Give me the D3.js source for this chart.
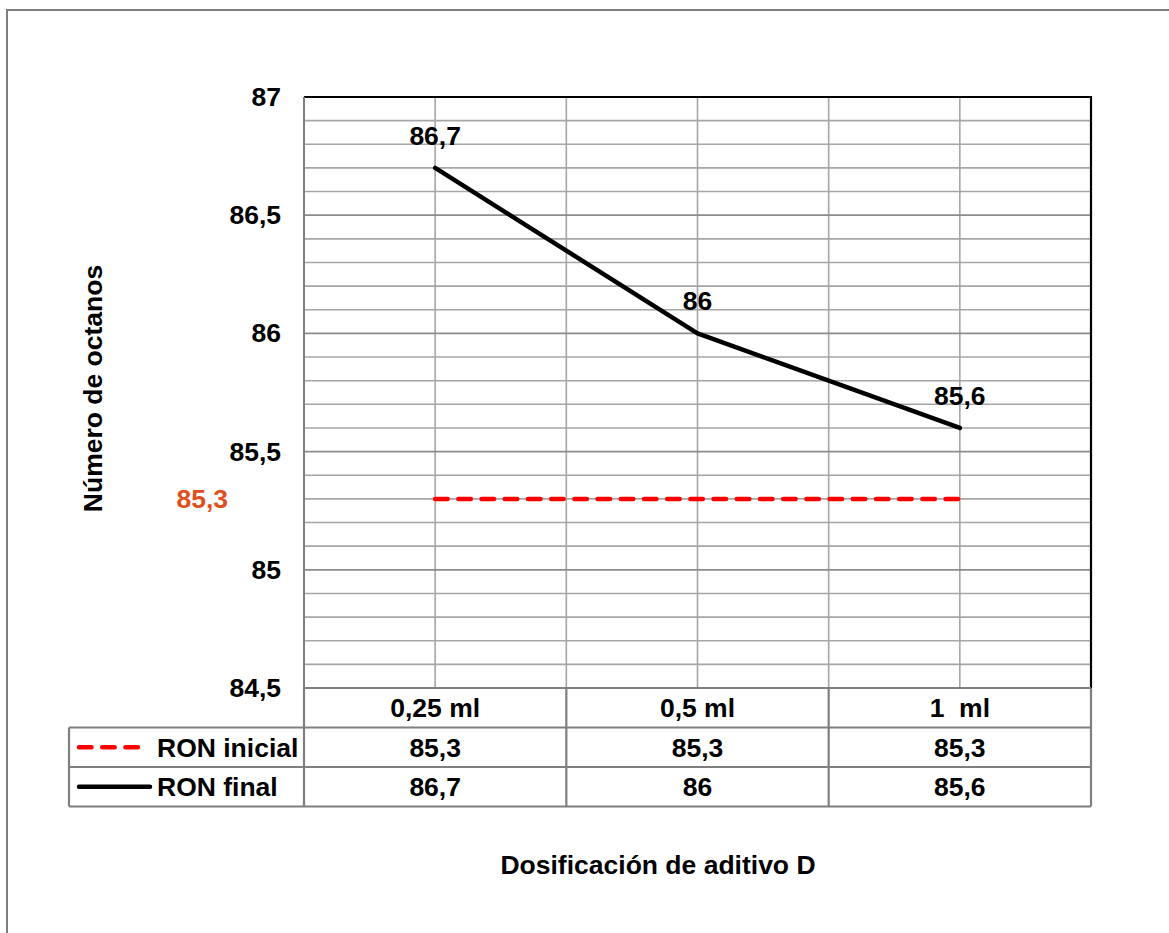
<!DOCTYPE html>
<html>
<head>
<meta charset="utf-8">
<script src="https://cdn.jsdelivr.net/npm/d3@7/dist/d3.min.js"></script>
<style>
  html, body { margin: 0; padding: 0; background: #fff; }
  svg text { font-family: "Liberation Sans", Arial, sans-serif; font-weight: bold; }
</style>
</head>
<body>
<svg id="chart" width="1169" height="933"></svg>
<script>
// Dosage categories and octane readings
const categories = ["0,25 ml", "0,5 ml", "1  ml"];
const ronInicial = [85.3, 85.3, 85.3];
const ronFinal = [86.7, 86.0, 85.6];
const seriesNames = ["RON inicial", "RON final"];
const yMajorTicks = [84.5, 85, 85.5, 86, 86.5, 87];

const svg = d3.select("#chart");
const W = 1169, H = 933;
const FS = 26.5;

const fmt = d3.formatLocale({ decimal: ",", thousands: ".", grouping: [3], currency: ["", ""] }).format("~r");
const fmt1 = v => fmt(+v.toFixed(1));

const plot = { left: 304, right: 1091, top: 97, bottom: 688 };
const rowH = 39.5;

const x = d3.scaleBand().domain(categories).range([plot.left, plot.right]).padding(0);
const y = d3.scaleLinear().domain([84.5, 87]).range([plot.bottom, plot.top]);

// Outer frame (runs off the right and bottom edges)
svg.append("rect")
  .attr("x", 7).attr("y", 10).attr("width", W + 20).attr("height", H + 20)
  .attr("fill", "none").attr("stroke", "#7f7f7f").attr("stroke-width", 2);

// Minor horizontal gridlines every 0.1
const minor = d3.range(0, 26).map(i => +(84.5 + i * 0.1).toFixed(1))
  .filter(v => !yMajorTicks.some(m => Math.abs(m - v) < 1e-6));
svg.append("g").selectAll("line").data(minor).join("line")
  .attr("x1", plot.left).attr("x2", plot.right)
  .attr("y1", d => y(d)).attr("y2", d => y(d))
  .attr("stroke", "#a6a6a6").attr("stroke-width", 1.6);

// Vertical gridlines at category centres and boundaries
const vx = [];
categories.forEach((c, i) => {
  vx.push(x(c) + x.bandwidth() / 2);
  if (i > 0) vx.push(x(c));
});
svg.append("g").selectAll("line").data(vx).join("line")
  .attr("x1", d => d).attr("x2", d => d)
  .attr("y1", plot.top).attr("y2", plot.bottom)
  .attr("stroke", "#a6a6a6").attr("stroke-width", 1.6);

// Major horizontal gridlines every 0.5
svg.append("g").selectAll("line").data(yMajorTicks.filter(v => v > 84.5 && v < 87)).join("line")
  .attr("x1", plot.left).attr("x2", plot.right)
  .attr("y1", d => y(d)).attr("y2", d => y(d))
  .attr("stroke", "#8c8c8c").attr("stroke-width", 1.8);

// Plot borders: black top/right, gray left
svg.append("path")
  .attr("d", `M${plot.left},${plot.top}H${plot.right}V${plot.bottom}`)
  .attr("fill", "none").attr("stroke", "#000").attr("stroke-width", 2.2);
svg.append("line")
  .attr("x1", plot.left).attr("x2", plot.left).attr("y1", plot.top).attr("y2", plot.bottom)
  .attr("stroke", "#7f7f7f").attr("stroke-width", 2);

// Y axis tick labels
const yAxis = d3.axisLeft(y).tickValues(yMajorTicks).tickSize(0).tickPadding(23).tickFormat(fmt1);
const gy = svg.append("g").attr("transform", `translate(${plot.left},0)`).call(yAxis);
gy.select(".domain").remove();
gy.selectAll("text").attr("font-size", FS).attr("fill", "#000")
  .attr("font-family", "Liberation Sans, Arial, sans-serif").attr("font-weight", "bold");

// Y axis title
svg.append("text")
  .attr("transform", `translate(102,${(265 + 512) / 2}) rotate(-90)`)
  .attr("text-anchor", "middle").attr("font-size", FS).attr("fill", "#000")
  .text("Número de octanos");

// Reference value label for the initial series
svg.append("text")
  .attr("x", 228).attr("y", y(ronInicial[0]) + 9.5)
  .attr("text-anchor", "end").attr("font-size", FS).attr("fill", "#E0501E")
  .text(fmt1(ronInicial[0]));

// Series lines
const line = d3.line().x((d, i) => x(categories[i]) + x.bandwidth() / 2).y(d => y(d));
svg.append("path").datum(ronInicial).attr("d", line)
  .attr("fill", "none").attr("stroke", "#ff0000").attr("stroke-width", 4.5)
  .attr("stroke-dasharray", "12.5,10.7").attr("stroke-linecap", "round");
svg.append("path").datum(ronFinal).attr("d", line)
  .attr("fill", "none").attr("stroke", "#000").attr("stroke-width", 4.5)
  .attr("stroke-linejoin", "round").attr("stroke-linecap", "round");

// Data labels for the final series
svg.append("g").selectAll("text").data(ronFinal).join("text")
  .attr("x", (d, i) => x(categories[i]) + x.bandwidth() / 2)
  .attr("y", d => y(d) - 23)
  .attr("text-anchor", "middle").attr("font-size", FS).attr("fill", "#000")
  .text(d => fmt1(d));

// Data table under the plot
const tbl = svg.append("g");
const tLeft = 69;
const rows = [plot.bottom, plot.bottom + rowH, plot.bottom + 2 * rowH, plot.bottom + 3 * rowH];
const gray = "#7f7f7f";
// horizontal rules
tbl.append("line").attr("x1", plot.left).attr("x2", plot.right).attr("y1", rows[0]).attr("y2", rows[0])
  .attr("stroke", gray).attr("stroke-width", 2.2);
[1, 2, 3].forEach(r => {
  tbl.append("line").attr("x1", tLeft).attr("x2", plot.right).attr("y1", rows[r]).attr("y2", rows[r])
    .attr("stroke", gray).attr("stroke-width", 2.2);
});
// vertical rules
tbl.append("line").attr("x1", tLeft).attr("x2", tLeft).attr("y1", rows[1]).attr("y2", rows[3])
  .attr("stroke", gray).attr("stroke-width", 2.2);
const colEdges = [plot.left, ...categories.slice(1).map(c => x(c)), plot.right];
colEdges.forEach(cx => {
  tbl.append("line").attr("x1", cx).attr("x2", cx).attr("y1", rows[0]).attr("y2", rows[3])
    .attr("stroke", gray).attr("stroke-width", 2.2);
});

// category header cells
tbl.append("g").selectAll("text").data(categories).join("text")
  .attr("x", d => x(d) + x.bandwidth() / 2).attr("y", rows[0] + rowH / 2 + 9.5)
  .attr("text-anchor", "middle").attr("font-size", FS).attr("fill", "#000")
  .attr("xml:space", "preserve").style("white-space", "pre")
  .text(d => d);

// value rows
[ronInicial, ronFinal].forEach((vals, r) => {
  tbl.append("g").selectAll("text").data(vals).join("text")
    .attr("x", (d, i) => x(categories[i]) + x.bandwidth() / 2)
    .attr("y", rows[r + 1] + rowH / 2 + 9.5)
    .attr("text-anchor", "middle").attr("font-size", FS).attr("fill", "#000")
    .text(d => fmt1(d));
});

// legend keys in the first column
const ly1 = rows[1] + rowH / 2, ly2 = rows[2] + rowH / 2;
tbl.append("line").attr("x1", 79).attr("x2", 140).attr("y1", ly1).attr("y2", ly1)
  .attr("stroke", "#ff0000").attr("stroke-width", 4.5)
  .attr("stroke-dasharray", "12.5,10.7").attr("stroke-linecap", "round");
tbl.append("line").attr("x1", 79).attr("x2", 150).attr("y1", ly2).attr("y2", ly2)
  .attr("stroke", "#000").attr("stroke-width", 4.5).attr("stroke-linecap", "round");
tbl.append("g").selectAll("text").data(seriesNames).join("text")
  .attr("x", 157).attr("y", (d, i) => rows[i + 1] + rowH / 2 + 9.5)
  .attr("font-size", FS).attr("fill", "#000")
  .text(d => d);

// X axis title
svg.append("text")
  .attr("x", 658).attr("y", 874)
  .attr("text-anchor", "middle").attr("font-size", FS).attr("fill", "#000")
  .text("Dosificación de aditivo D");
</script>
</body>
</html>
